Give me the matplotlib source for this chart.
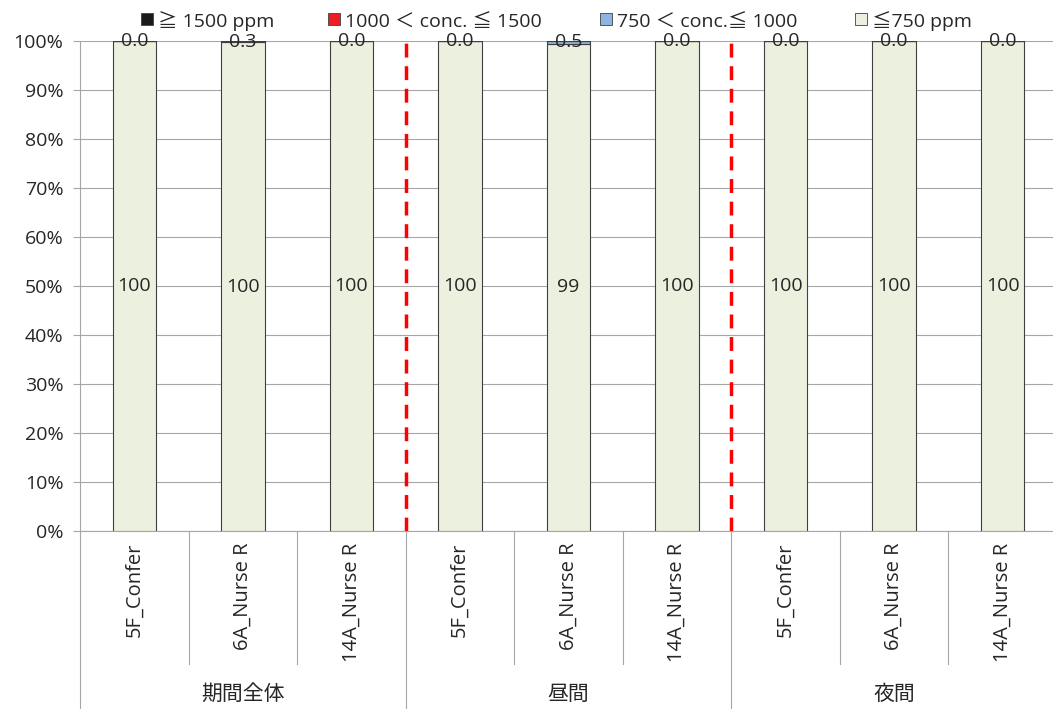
import numpy as np
import matplotlib.pyplot as plt
from matplotlib.patches import Rectangle
import matplotlib.transforms as mtransforms

plt.rcParams['font.family'] = ['Open Sans', 'Noto Sans CJK JP', 'DejaVu Sans']

# Share of hours per CO2 band (%)
rooms = ['5F_Confer', '6A_Nurse R', '14A_Nurse R'] * 3
periods = ['期間全体', '昼間', '夜間']
over_1500 = [0.0, 0.0, 0.0, 0.0, 0.0, 0.0, 0.0, 0.0, 0.0]
c1000_1500 = [0.0, 0.0, 0.0, 0.0, 0.0, 0.0, 0.0, 0.0, 0.0]
c750_1000 = [0.0, 0.3, 0.0, 0.0, 0.54, 0.0, 0.0, 0.0, 0.0]
under_750 = [100.0, 99.7, 100.0, 100.0, 99.46, 100.0, 100.0, 100.0, 100.0]

series = [
    ('≦750 ppm', under_750, '#EBF1DE'),
    ('750 ＜ conc.≦ 1000', c750_1000, '#8DB4E2'),
    ('1000 ＜ conc. ≦ 1500', c1000_1500, '#EE1C25'),
    ('≧ 1500 ppm', over_1500, '#1A1A1A'),
]
txt = '#262626'

fig = plt.figure(figsize=(10.53, 7.09), dpi=100)
ax = fig.add_axes([80 / 1053, 178 / 709, 977 / 1053, 490 / 709])

x = np.arange(len(rooms))
bottom = np.zeros(len(rooms))
for name, vals, col in series:
    vals = np.array(vals)
    ax.bar(x, vals, 0.4, bottom=bottom, color=col,
           edgecolor='#404040', linewidth=0.8, zorder=3)
    bottom += vals

# data labels
for i in x:
    ax.text(i, under_750[i] / 2, f'{under_750[i]:.0f}', ha='center', va='center',
            fontsize=14, color=txt, zorder=5)
    ax.text(i, under_750[i] + c750_1000[i] / 2, f'{c750_1000[i]:.1f}', ha='center',
            va='center', fontsize=14, color=txt, zorder=5)

ax.set_xlim(-0.5, len(rooms) - 0.5)
ax.set_ylim(0, 100)
ax.set_yticks(np.arange(0, 101, 10))
ax.set_yticklabels([f'{v}%' for v in range(0, 101, 10)], fontsize=14, color=txt)
ax.yaxis.grid(True, color='#A6A6A6', linewidth=0.8, zorder=0)
ax.set_xticks([])
for s in ['top', 'right']:
    ax.spines[s].set_visible(False)
for s in ['left', 'bottom']:
    ax.spines[s].set_color('#A6A6A6')
ax.tick_params(axis='y', length=5, color='#A6A6A6', pad=7)

# period separators
for xs in [2.5, 5.5]:
    ax.axvline(xs, color='#FF0000', linestyle=(0, (4, 2.5)), linewidth=2.5, zorder=4)

# two-level category axis below the plot
trans = mtransforms.blended_transform_factory(ax.transData, ax.transAxes)
y_room = -133 / 490
y_all = -178 / 490
for i in range(len(rooms) + 1):
    xs = i - 0.5
    end = y_all if i % 3 == 0 else y_room
    ax.plot([xs, xs], [0, end], color='#A6A6A6', linewidth=0.8, transform=trans,
            clip_on=False)
for i, r in enumerate(rooms):
    ax.text(i, -12 / 490, r, rotation=90, ha='center', va='top', fontsize=14.5,
            color=txt, transform=trans)
for g, p in enumerate(periods):
    ax.text(3 * g + 1, -163 / 490, p, ha='center', va='center', fontsize=15,
            color=txt, transform=trans)

# legend along the top: square key + label on a common baseline
W, H = 1053, 709
for (name, _, col), lx in zip(series[::-1], [141, 328, 600, 855]):
    fig.patches.append(Rectangle((lx / W, 1 - 25 / H), 12 / W, 12 / H,
                                 facecolor=col, edgecolor='#404040', linewidth=0.6,
                                 transform=fig.transFigure, figure=fig))
    fig.text((lx + 17) / W, 1 - 27 / H, name, fontsize=14, color=txt,
             ha='left', va='baseline')

fig.savefig('out.png', dpi=100)
